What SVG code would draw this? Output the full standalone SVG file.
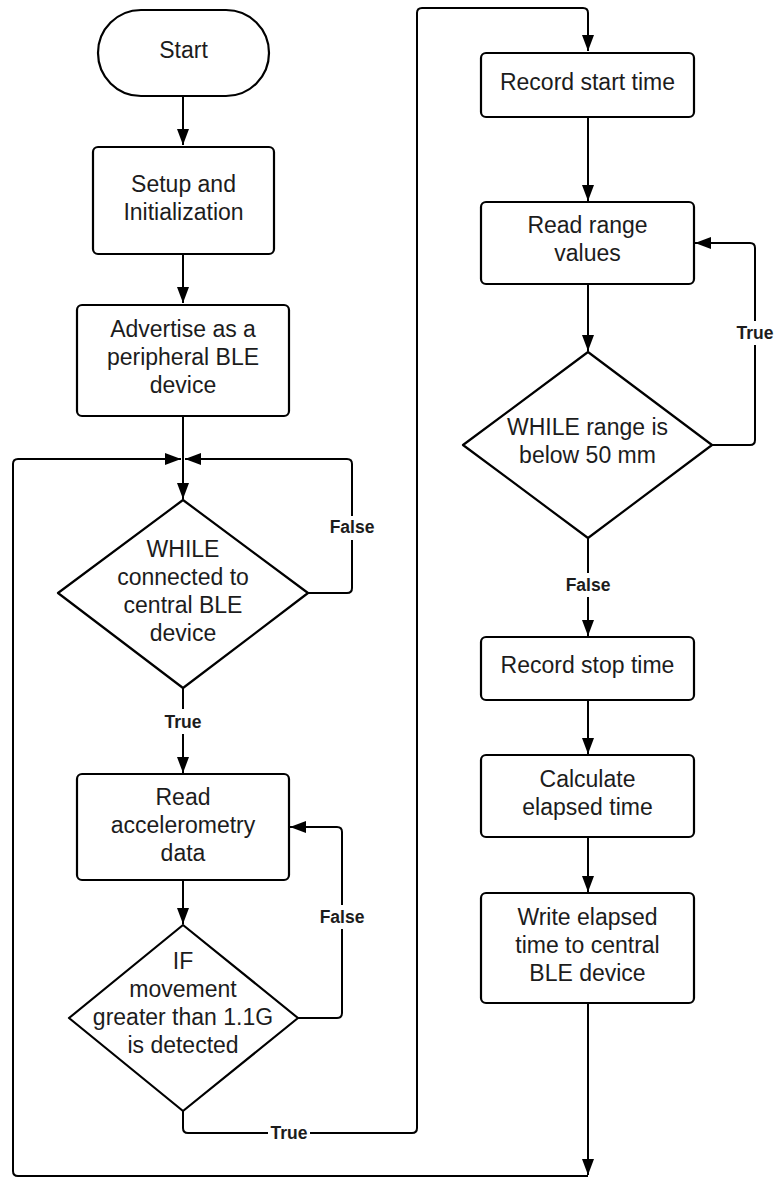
<svg xmlns="http://www.w3.org/2000/svg" width="774" height="1178" viewBox="0 0 774 1178">
  <style>
    .shape { fill: #ffffff; stroke: #000000; stroke-width: 2.2; stroke-linejoin: round; }
    .edge { fill: none; stroke: #000000; stroke-width: 2; stroke-linejoin: round; }
    .txt { font-family: "Liberation Sans", Arial, sans-serif; font-size: 23px; fill: #1c1c1c; text-anchor: middle; }
    .lbl { font-family: "Liberation Sans", Arial, sans-serif; font-size: 17.5px; font-weight: bold; fill: #1c1c1c; text-anchor: middle; }
    .gap { fill: #ffffff; stroke: none; }
  </style>
  <defs>
    <marker id="arrow" markerUnits="userSpaceOnUse" markerWidth="16" markerHeight="12" refX="16" refY="6" orient="auto">
      <path d="M0,0 L16,6 L0,12 Z" fill="#000000"/>
    </marker>
  </defs>
  <rect width="774" height="1178" fill="#ffffff"/>

  <!-- connectors -->
  <g id="connectors">
    <path class="edge" d="M183,96 V145" marker-end="url(#arrow)"/>
    <path class="edge" d="M183,254 V303" marker-end="url(#arrow)"/>
    <path class="edge" d="M183,416 V499" marker-end="url(#arrow)"/>
    <!-- outer return loop -->
    <path class="edge" d="M588,1003 V1175" marker-end="url(#arrow)"/>
    <path class="edge" d="M588,1176 H18 Q13,1176 13,1171 V464 Q13,459 18,459 H181" marker-end="url(#arrow)"/>
    <!-- while connected: false -->
    <path class="edge" d="M308,593 H347 Q352,593 352,588 V464 Q352,459 347,459 H185" marker-end="url(#arrow)"/>
    <rect class="gap" x="326" y="516" width="52" height="24"/>
    <text class="lbl" x="352" y="533">False</text>
    <!-- while connected: true -->
    <path class="edge" d="M183,688 V773" marker-end="url(#arrow)"/>
    <rect class="gap" x="162" y="709" width="42" height="25"/>
    <text class="lbl" x="183" y="728">True</text>
    <path class="edge" d="M183,880 V924" marker-end="url(#arrow)"/>
    <!-- movement: false -->
    <path class="edge" d="M298,1018 H337 Q342,1018 342,1013 V832 Q342,827 337,827 H290" marker-end="url(#arrow)"/>
    <rect class="gap" x="316" y="905" width="52" height="24"/>
    <text class="lbl" x="342" y="923">False</text>
    <!-- movement: true -->
    <path class="edge" d="M183,1111 V1128 Q183,1133 188,1133 H412 Q417,1133 417,1128 V13 Q417,8 422,8 H583 Q588,8 588,13 V51" marker-end="url(#arrow)"/>
    <rect class="gap" x="268" y="1121" width="42" height="24"/>
    <text class="lbl" x="289" y="1139">True</text>
    <!-- right column -->
    <path class="edge" d="M588,117 V201" marker-end="url(#arrow)"/>
    <path class="edge" d="M588,284 V351" marker-end="url(#arrow)"/>
    <path class="edge" d="M712,445 H750 Q755,445 755,440 V248 Q755,243 750,243 H695" marker-end="url(#arrow)"/>
    <rect class="gap" x="734" y="321" width="42" height="24"/>
    <text class="lbl" x="755" y="339">True</text>
    <path class="edge" d="M588,538 V636" marker-end="url(#arrow)"/>
    <rect class="gap" x="562" y="573" width="52" height="24"/>
    <text class="lbl" x="588" y="591">False</text>
    <path class="edge" d="M588,700 V754" marker-end="url(#arrow)"/>
    <path class="edge" d="M588,837 V892" marker-end="url(#arrow)"/>
  </g>

  <g id="start">
    <rect class="shape" x="98" y="10" width="171" height="86" rx="43"/>
    <text class="txt" x="183.5" y="58">Start</text>
  </g>

  <g id="setup">
    <rect class="shape" x="93" y="147" width="181" height="107" rx="5"/>
    <text class="txt" x="183.5" y="192">Setup and</text>
    <text class="txt" x="183.5" y="220">Initialization</text>
  </g>

  <g id="advertise">
    <rect class="shape" x="77" y="305" width="212" height="111" rx="5"/>
    <text class="txt" x="183" y="337">Advertise as a</text>
    <text class="txt" x="183" y="365">peripheral BLE</text>
    <text class="txt" x="183" y="393">device</text>
  </g>

  <g id="while-connected">
    <polygon class="shape" points="183,500 308,593 183,688 58,593"/>
    <text class="txt" x="183" y="557">WHILE</text>
    <text class="txt" x="183" y="585">connected to</text>
    <text class="txt" x="183" y="613">central BLE</text>
    <text class="txt" x="183" y="641">device</text>
  </g>

  <g id="read-accel">
    <rect class="shape" x="77" y="774" width="212" height="106" rx="5"/>
    <text class="txt" x="183" y="805">Read</text>
    <text class="txt" x="183" y="833">accelerometry</text>
    <text class="txt" x="183" y="861">data</text>
  </g>

  <g id="if-movement">
    <polygon class="shape" points="183,925 298,1018 183,1111 69,1018"/>
    <text class="txt" x="183" y="969">IF</text>
    <text class="txt" x="183" y="997">movement</text>
    <text class="txt" x="183" y="1025">greater than 1.1G</text>
    <text class="txt" x="183" y="1053">is detected</text>
  </g>

  <g id="record-start">
    <rect class="shape" x="481" y="53" width="213" height="64" rx="5"/>
    <text class="txt" x="587.5" y="90">Record start time</text>
  </g>

  <g id="read-range">
    <rect class="shape" x="481" y="202" width="213" height="82" rx="5"/>
    <text class="txt" x="587.5" y="233">Read range</text>
    <text class="txt" x="587.5" y="261">values</text>
  </g>

  <g id="while-range">
    <polygon class="shape" points="588,352 712,445 588,538 463,445"/>
    <text class="txt" x="587.5" y="435">WHILE range is</text>
    <text class="txt" x="587.5" y="463">below 50 mm</text>
  </g>

  <g id="record-stop">
    <rect class="shape" x="481" y="637" width="213" height="63" rx="5"/>
    <text class="txt" x="587.5" y="673">Record stop time</text>
  </g>

  <g id="calculate">
    <rect class="shape" x="481" y="755" width="213" height="82" rx="5"/>
    <text class="txt" x="587.5" y="787">Calculate</text>
    <text class="txt" x="587.5" y="815">elapsed time</text>
  </g>

  <g id="write">
    <rect class="shape" x="481" y="893" width="213" height="110" rx="5"/>
    <text class="txt" x="587.5" y="925">Write elapsed</text>
    <text class="txt" x="587.5" y="953">time to central</text>
    <text class="txt" x="587.5" y="981">BLE device</text>
  </g>
</svg>
